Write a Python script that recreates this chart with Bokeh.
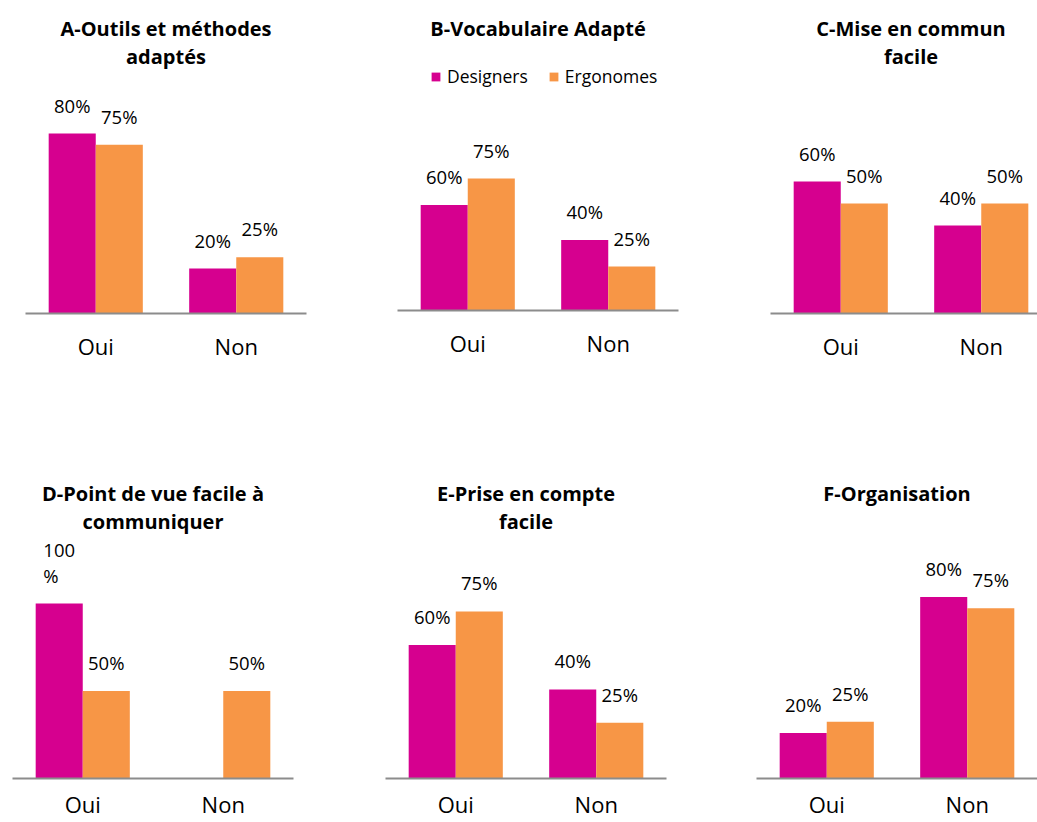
from bokeh.plotting import figure
from bokeh.layouts import column, row
from bokeh.models import ColumnDataSource, Range1d, FixedTicker, LabelSet, Label
from bokeh.core.properties import value
from bokeh.transform import dodge
from bokeh.embed import file_html
from bokeh.resources import INLINE

# ---------------- data ----------------
categories = ["Oui", "Non"]
series = ["Designers", "Ergonomes"]
titles = [
    "A-Outils et méthodes\nadaptés",
    "B-Vocabulaire Adapté",
    "C-Mise en commun\nfacile",
    "D-Point de vue facile à\ncommuniquer",
    "E-Prise en compte\nfacile",
    "F-Organisation",
]
designers = [[80, 20], [60, 40], [60, 40], [100, 0], [60, 40], [20, 80]]
ergonomes = [[75, 25], [75, 25], [50, 50], [50, 50], [75, 25], [25, 75]]

# ---------------- style / layout ----------------
COLORS = ["#D6008F", "#F79646"]
FONT = "Open Sans"
PX_PER_CAT = 140.5
BAR_W = 0.335
# left, frame_w, right, top, frame_h, bottom, px per 100%, title offset from frame top, label standoff
LAYOUT = [
    (25, 281, 40, 8, 305, 60, 225.0, 6, 11),
    (51, 281, 40, 8, 302, 60, 176.0, 6, 11),
    (52, 267, 0, 8, 305, 60, 220.0, 6, 11),
    (12, 281, 40, 0, 405, 43, 175.0, 106, 4),
    (52, 281, 40, 0, 405, 43, 222.7, 106, 4),
    (50, 281, 0, 0, 405, 43, 227.0, 106, 4),
]


def fmt(v):
    s = f"{v}%"
    if len(s) > 3:
        s = s[:-1] + "\n%"
    return s


def make_panel(i):
    left, fw, right, top, fh, bottom, px100, toff, standoff = LAYOUT[i]
    x_end = 0.5 + fw / PX_PER_CAT
    y_end = fh / px100 * 100
    p = figure(
        width=left + fw + right, height=top + fh + bottom,
        x_range=Range1d(0.5, x_end), y_range=Range1d(0, y_end),
        output_backend="svg", toolbar_location=None,
        y_axis_location=None, min_border_left=left, min_border_right=right,
        min_border_top=top, min_border_bottom=bottom,
    )
    p.outline_line_color = None
    p.grid.visible = False
    p.background_fill_color = "white"
    p.border_fill_color = "white"

    xs = [k + 1 for k in range(len(categories))]
    vals = [designers[i], ergonomes[i]]
    offsets = [-BAR_W / 2, BAR_W / 2]
    for s_idx, name in enumerate(series):
        src = ColumnDataSource(dict(x=xs, top=vals[s_idx]))
        kw = dict(legend_label=name) if i == 1 else {}
        p.vbar(x=dodge("x", offsets[s_idx], range=p.x_range), top="top", width=BAR_W,
               source=src, fill_color=COLORS[s_idx], line_color=None, **kw)
        lx = [x for x, v in zip(xs, vals[s_idx]) if v > 0]
        ly = [v for v in vals[s_idx] if v > 0]
        lt = [fmt(v) for v in vals[s_idx] if v > 0]
        lsrc = ColumnDataSource(dict(x=lx, y=ly, t=lt))
        p.add_layout(LabelSet(x=dodge("x", offsets[s_idx], range=p.x_range), y="y", text="t",
                              source=lsrc, y_offset=16, text_align="center",
                              text_baseline="bottom", text_font=value(FONT),
                              text_font_size=value("18.5px"), text_color="#000000",
                              text_line_height=1.03))

    p.add_layout(Label(x=PX_PER_CAT, y=fh - toff, x_units="screen", y_units="screen",
                       text=titles[i], text_align="center", text_baseline="top",
                       text_font=FONT, text_font_style="bold", text_font_size="20px",
                       text_color="#000000", text_line_height=1.065))

    ax = p.xaxis[0]
    ax.ticker = FixedTicker(ticks=xs)
    ax.major_label_overrides = {x: c for x, c in zip(xs, categories)}
    ax.major_tick_line_color = None
    ax.minor_tick_line_color = None
    ax.axis_line_color = "#8C8C8C"
    ax.axis_line_width = 2
    ax.major_label_text_font = FONT
    ax.major_label_text_font_size = "22px"
    ax.major_label_text_color = "#000000"
    ax.major_label_standoff = standoff

    if i == 1:
        leg = p.legend[0]
        leg.orientation = "horizontal"
        leg.location = (33, 222)
        leg.glyph_width = 11
        leg.glyph_height = 11
        leg.label_standoff = 6
        leg.spacing = 20
        leg.padding = 0
        leg.margin = 0
        leg.border_line_color = None
        leg.background_fill_alpha = 0
        leg.label_text_font = FONT
        leg.label_text_font_size = "17.5px"
        leg.label_text_color = "#000000"
    return p


panels = [make_panel(i) for i in range(6)]
layout = column(row(*panels[:3]), row(*panels[3:]))

open("out.html", "w").write(file_html(layout, INLINE))
